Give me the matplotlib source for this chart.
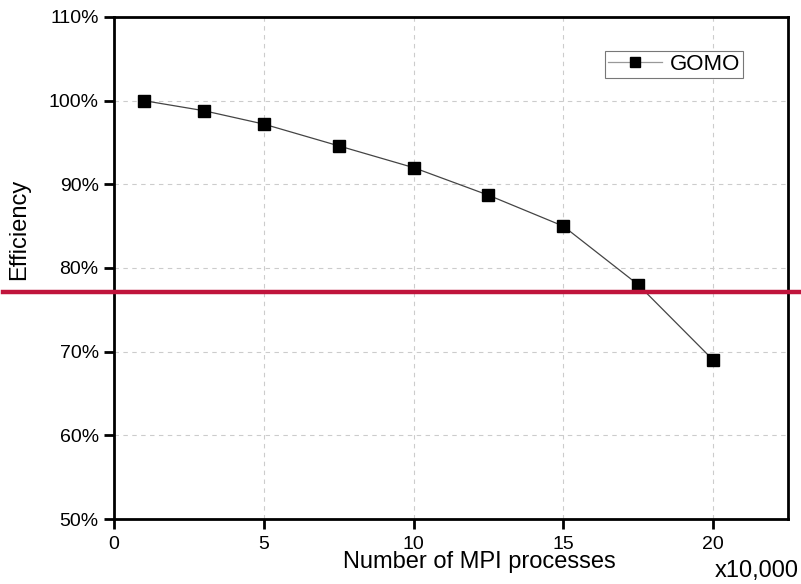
import matplotlib.pyplot as plt
from matplotlib.ticker import FuncFormatter

# data (x in units of 10,000 MPI processes, efficiency in %)
procs = [1, 3, 5, 7.5, 10, 12.5, 15, 17.5, 20]
efficiency = [100.0, 98.8, 97.2, 94.6, 92.0, 88.7, 85.0, 78.0, 69.0]
threshold = 77.1

x_ticks = [0, 5, 10, 15, 20]
y_ticks = [50, 60, 70, 80, 90, 100, 110]

plt.rcParams['font.family'] = ['Liberation Sans', 'DejaVu Sans']

fig = plt.figure(figsize=(8.01, 5.84), dpi=100)
ax = fig.add_axes([0.1423, 0.1113, 0.8415, 0.8596])

ax.plot(procs, efficiency, color='#444444', lw=0.9, marker='s',
        markersize=8, markerfacecolor='black', markeredgecolor='black',
        label='GOMO', zorder=3)

# red reference line, runs past the axes on both sides
ax.axhline(threshold, xmin=-0.165, xmax=1.03, color='#C0143C', lw=3.2,
           clip_on=False, zorder=4)

ax.set_xlim(0, 22.5)
ax.set_ylim(50, 110)
ax.set_xticks(x_ticks)
ax.set_yticks(y_ticks)
ax.yaxis.set_major_formatter(FuncFormatter(lambda v, p: '%d%%' % v))

ax.grid(True, ls=(0, (4, 4)), color='#cccccc', lw=0.8)
ax.set_axisbelow(True)
for s in ax.spines.values():
    s.set_linewidth(2)
ax.tick_params(direction='out', length=7, width=2, labelsize=14, pad=4)
ax.tick_params(axis='x', pad=5)

leg = ax.legend(loc='upper right', bbox_to_anchor=(0.95, 0.955),
                fontsize=16, handlelength=2.4, handletextpad=0.35,
                borderpad=0.15, fancybox=False, framealpha=1,
                edgecolor='#777777', markerscale=0.85)
leg.get_frame().set_linewidth(0.8)
leg.get_lines()[0].set_color('#999999')

fig.text(0.598, 0.037, 'Number of MPI processes', ha='center', va='center', fontsize=17)
fig.text(0.945, 0.022, 'x10,000', ha='center', va='center', fontsize=17)
fig.text(0.024, 0.607, 'Efficiency', ha='center', va='center', fontsize=17,
         rotation=90)

fig.savefig('out.png', dpi=100)
